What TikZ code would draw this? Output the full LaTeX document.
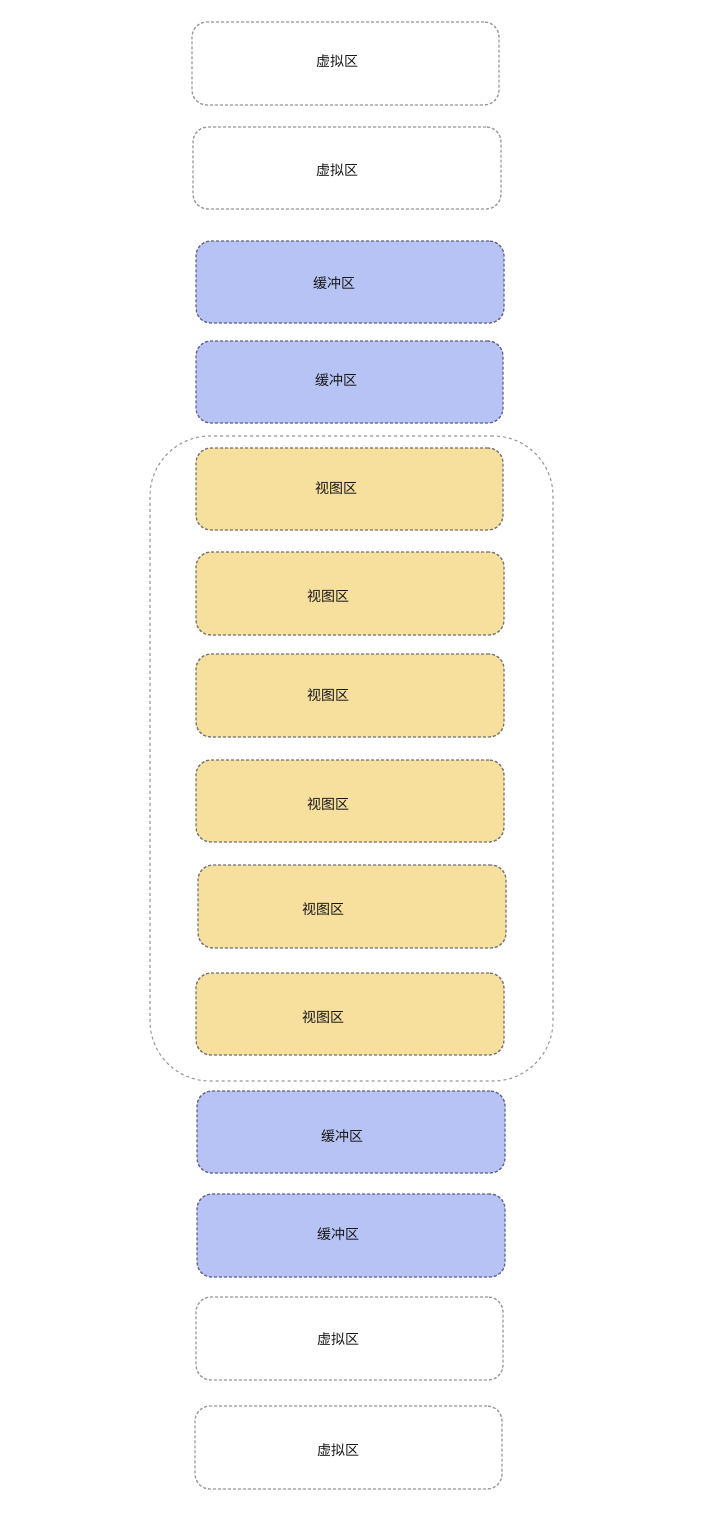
\documentclass[tikz,border=0pt]{standalone}
\usepackage{fontspec}
\newfontfamily\cjk{Noto Sans CJK SC}
\definecolor{bluef}{HTML}{B6C3F4}
\definecolor{yelf}{HTML}{F7DF9E}
\definecolor{edgeg}{HTML}{747474}
\definecolor{edgev}{HTML}{9A9A9A}
\newcommand{\zbox}[9]{%
  \node[#6, minimum width={#4-#2}, minimum height={#5-#3}] (#1) at ({(#2+#4)/2},{(#3+#5)/2}) {};
  \node[lbl] (#1t) at (#7,#8) {#9};
}
\begin{document}
\begin{tikzpicture}[x=1pt,y=-1pt,
  base/.style={rectangle, rounded corners=15pt, draw=edgeg, line width=1.3pt, dash pattern=on 3pt off 2pt, inner sep=0pt},
  virt/.style={base, fill=white, draw=edgev},
  buf/.style={base, fill=bluef, draw=edgeg!85!blue},
  view/.style={base, fill=yelf},
  lbl/.style={font=\cjk\fontsize{14}{16}\selectfont, text=black!90, inner sep=0pt},
  cont/.style={rectangle, rounded corners=60pt, draw=edgev, line width=1.1pt, dash pattern=on 3pt off 3pt, inner sep=0pt}]
\useasboundingbox (0,0) rectangle (716,1518);
\fill[white] (0,0) rectangle (716,1518);
\node[cont, minimum width=403pt, minimum height=645pt] (C) at (351.5,758.5) {};
\zbox{v1}{192}{22}{499}{105}{virt}{337}{61}{虚拟区}
\zbox{v2}{193}{127}{501}{209}{virt}{337}{170}{虚拟区}
\zbox{b1}{196}{241}{504}{323}{buf}{334}{283}{缓冲区}
\zbox{b2}{196}{341}{503}{423}{buf}{336}{380}{缓冲区}
\zbox{w1}{196}{448}{503}{530}{view}{336}{488}{视图区}
\zbox{w2}{196}{552}{504}{635}{view}{328}{596}{视图区}
\zbox{w3}{196}{654}{504}{737}{view}{328}{695}{视图区}
\zbox{w4}{196}{760}{504}{842}{view}{328}{804}{视图区}
\zbox{w5}{198}{865}{506}{948}{view}{323}{909}{视图区}
\zbox{w6}{196}{973}{504}{1055}{view}{323}{1017}{视图区}
\zbox{b3}{197}{1091}{505}{1173}{buf}{342}{1136}{缓冲区}
\zbox{b4}{197}{1194}{505}{1277}{buf}{338}{1234}{缓冲区}
\zbox{v3}{196}{1297}{503}{1380}{virt}{338}{1339}{虚拟区}
\zbox{v4}{195}{1406}{502}{1489}{virt}{338}{1450}{虚拟区}
\end{tikzpicture}
\end{document}
